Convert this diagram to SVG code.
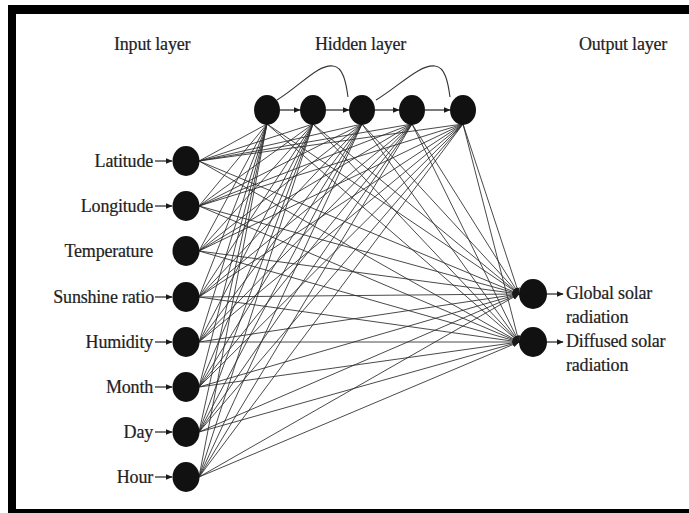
<svg xmlns="http://www.w3.org/2000/svg" width="689" height="513" viewBox="0 0 689 513">
  <defs>
    <marker id="arrow" viewBox="0 0 10 10" refX="9" refY="5" markerWidth="7" markerHeight="7" markerUnits="userSpaceOnUse" orient="auto">
      <path d="M0 1 L10 5 L0 9 Z" fill="#1a1a1a"/>
    </marker>
    <style>
      .lbl { font-family: "Liberation Serif", "Times New Roman", serif; font-size: 18px; letter-spacing: -0.2px; fill: #222; stroke: #222; stroke-width: 0.2; }
      .end { text-anchor: end; }
      .node { fill: #111; }
      .w { stroke: #2a2a2a; stroke-width: 1; fill: none; stroke-opacity: 0.85; }
      .wo { stroke: #2a2a2a; stroke-width: 1; fill: none; stroke-opacity: 0.85; marker-end: url(#arrow); }
      .ptr { stroke: #222; stroke-width: 1.2; fill: none; marker-end: url(#arrow); }
      .loop { stroke: #333; stroke-width: 1.1; fill: none; }
    </style>
  </defs>

  <!-- page and frame -->
  <rect x="0" y="0" width="689" height="513" fill="#fff"/>
  <rect x="8" y="5" width="700" height="520" fill="#000"/>
  <rect x="16" y="14" width="700" height="495" fill="#fff"/>

  <!-- layer headings -->
  <text class="lbl" x="114" y="50">Input layer</text>
  <text class="lbl" x="315" y="50">Hidden layer</text>
  <text class="lbl" x="579" y="50">Output layer</text>

  <g id="connectors">
    <!-- input -> hidden -->
    <path class="w" d="M199 161L267 124M199 161L313 124M199 161L362 124M199 161L412 124M199 161L463 124"/>
    <path class="w" d="M199 206L267 124M199 206L313 124M199 206L362 124M199 206L412 124M199 206L463 124"/>
    <path class="w" d="M199 251L267 124M199 251L313 124M199 251L362 124M199 251L412 124M199 251L463 124"/>
    <path class="w" d="M199 297L267 124M199 297L313 124M199 297L362 124M199 297L412 124M199 297L463 124"/>
    <path class="w" d="M199 342L267 124M199 342L313 124M199 342L362 124M199 342L412 124M199 342L463 124"/>
    <path class="w" d="M199 387L267 124M199 387L313 124M199 387L362 124M199 387L412 124M199 387L463 124"/>
    <path class="w" d="M199 432L267 124M199 432L313 124M199 432L362 124M199 432L412 124M199 432L463 124"/>
    <path class="w" d="M199 477L267 124M199 477L313 124M199 477L362 124M199 477L412 124M199 477L463 124"/>

    <!-- input -> output -->
    <line class="wo" x1="199" y1="161" x2="519" y2="294"/>
    <line class="wo" x1="199" y1="161" x2="519" y2="342"/>
    <line class="wo" x1="199" y1="206" x2="519" y2="294"/>
    <line class="wo" x1="199" y1="206" x2="519" y2="342"/>
    <line class="wo" x1="199" y1="251" x2="519" y2="294"/>
    <line class="wo" x1="199" y1="251" x2="519" y2="342"/>
    <line class="wo" x1="199" y1="297" x2="519" y2="294"/>
    <line class="wo" x1="199" y1="297" x2="519" y2="342"/>
    <line class="wo" x1="199" y1="342" x2="519" y2="294"/>
    <line class="wo" x1="199" y1="342" x2="519" y2="342"/>
    <line class="wo" x1="199" y1="387" x2="519" y2="294"/>
    <line class="wo" x1="199" y1="387" x2="519" y2="342"/>
    <line class="wo" x1="199" y1="432" x2="519" y2="294"/>
    <line class="wo" x1="199" y1="432" x2="519" y2="342"/>
    <line class="wo" x1="199" y1="477" x2="519" y2="294"/>
    <line class="wo" x1="199" y1="477" x2="519" y2="342"/>

    <!-- hidden -> output -->
    <line class="wo" x1="267" y1="124" x2="519" y2="294"/>
    <line class="wo" x1="267" y1="124" x2="519" y2="342"/>
    <line class="wo" x1="313" y1="124" x2="519" y2="294"/>
    <line class="wo" x1="313" y1="124" x2="519" y2="342"/>
    <line class="wo" x1="362" y1="124" x2="519" y2="294"/>
    <line class="wo" x1="362" y1="124" x2="519" y2="342"/>
    <line class="wo" x1="412" y1="124" x2="519" y2="294"/>
    <line class="wo" x1="412" y1="124" x2="519" y2="342"/>
    <line class="wo" x1="463" y1="124" x2="519" y2="294"/>
    <line class="wo" x1="463" y1="124" x2="519" y2="342"/>

    <!-- chain inside the hidden layer -->
    <line class="ptr" x1="280" y1="110" x2="300" y2="110"/>
    <line class="ptr" x1="326" y1="110" x2="349" y2="110"/>
    <line class="ptr" x1="375" y1="110" x2="399" y2="110"/>
    <line class="ptr" x1="425" y1="110" x2="450" y2="110"/>

    <!-- skip loops -->
    <path class="loop" d="M277 100 C300 86 318 64 333 66 C343 67 346 82 348 97"/>
    <path class="loop" d="M376 100 C399 86 420 64 435 66 C445 67 448 82 450 97"/>

    <!-- input pointers -->
    <line class="ptr" x1="155" y1="161" x2="172" y2="161"/>
    <line class="ptr" x1="155" y1="206" x2="172" y2="206"/>
    <line class="ptr" x1="155" y1="297" x2="172" y2="297"/>
    <line class="ptr" x1="155" y1="342" x2="172" y2="342"/>
    <line class="ptr" x1="155" y1="387" x2="172" y2="387"/>
    <line class="ptr" x1="155" y1="432" x2="172" y2="432"/>
    <line class="ptr" x1="155" y1="477" x2="172" y2="477"/>

    <!-- output pointers -->
    <line class="ptr" x1="547" y1="294" x2="563" y2="294"/>
    <line class="ptr" x1="547" y1="342" x2="563" y2="342"/>
  </g>

  <!-- input layer -->
  <g id="in-latitude"><ellipse class="node" cx="186" cy="161" rx="13.5" ry="15"/><text class="lbl end" x="153" y="167">Latitude</text></g>
  <g id="in-longitude"><ellipse class="node" cx="186" cy="206" rx="13.5" ry="15"/><text class="lbl end" x="153" y="212">Longitude</text></g>
  <g id="in-temperature"><ellipse class="node" cx="186" cy="251" rx="13.5" ry="15"/><text class="lbl end" x="153" y="257">Temperature</text></g>
  <g id="in-sunshine"><ellipse class="node" cx="186" cy="297" rx="13.5" ry="15"/><text class="lbl end" x="154" y="303">Sunshine ratio</text></g>
  <g id="in-humidity"><ellipse class="node" cx="186" cy="342" rx="13.5" ry="15"/><text class="lbl end" x="153" y="348">Humidity</text></g>
  <g id="in-month"><ellipse class="node" cx="186" cy="387" rx="13.5" ry="15"/><text class="lbl end" x="153" y="393">Month</text></g>
  <g id="in-day"><ellipse class="node" cx="186" cy="432" rx="13.5" ry="15"/><text class="lbl end" x="153" y="438">Day</text></g>
  <g id="in-hour"><ellipse class="node" cx="186" cy="477" rx="13.5" ry="15"/><text class="lbl end" x="153" y="483">Hour</text></g>

  <!-- hidden layer -->
  <g id="h1"><ellipse class="node" cx="267" cy="110" rx="13" ry="15"/></g>
  <g id="h2"><ellipse class="node" cx="313" cy="110" rx="13" ry="15"/></g>
  <g id="h3"><ellipse class="node" cx="362" cy="110" rx="13" ry="15"/></g>
  <g id="h4"><ellipse class="node" cx="412" cy="110" rx="13" ry="15"/></g>
  <g id="h5"><ellipse class="node" cx="463" cy="110" rx="13" ry="15"/></g>

  <!-- output layer -->
  <g id="out-global"><ellipse class="node" cx="533" cy="294" rx="14" ry="15"/>
    <text class="lbl" x="566" y="299">Global solar</text>
    <text class="lbl" x="566" y="323">radiation</text></g>
  <g id="out-diffused"><ellipse class="node" cx="533" cy="342" rx="14" ry="15"/>
    <text class="lbl" x="566" y="347">Diffused solar</text>
    <text class="lbl" x="566" y="371">radiation</text></g>
</svg>
